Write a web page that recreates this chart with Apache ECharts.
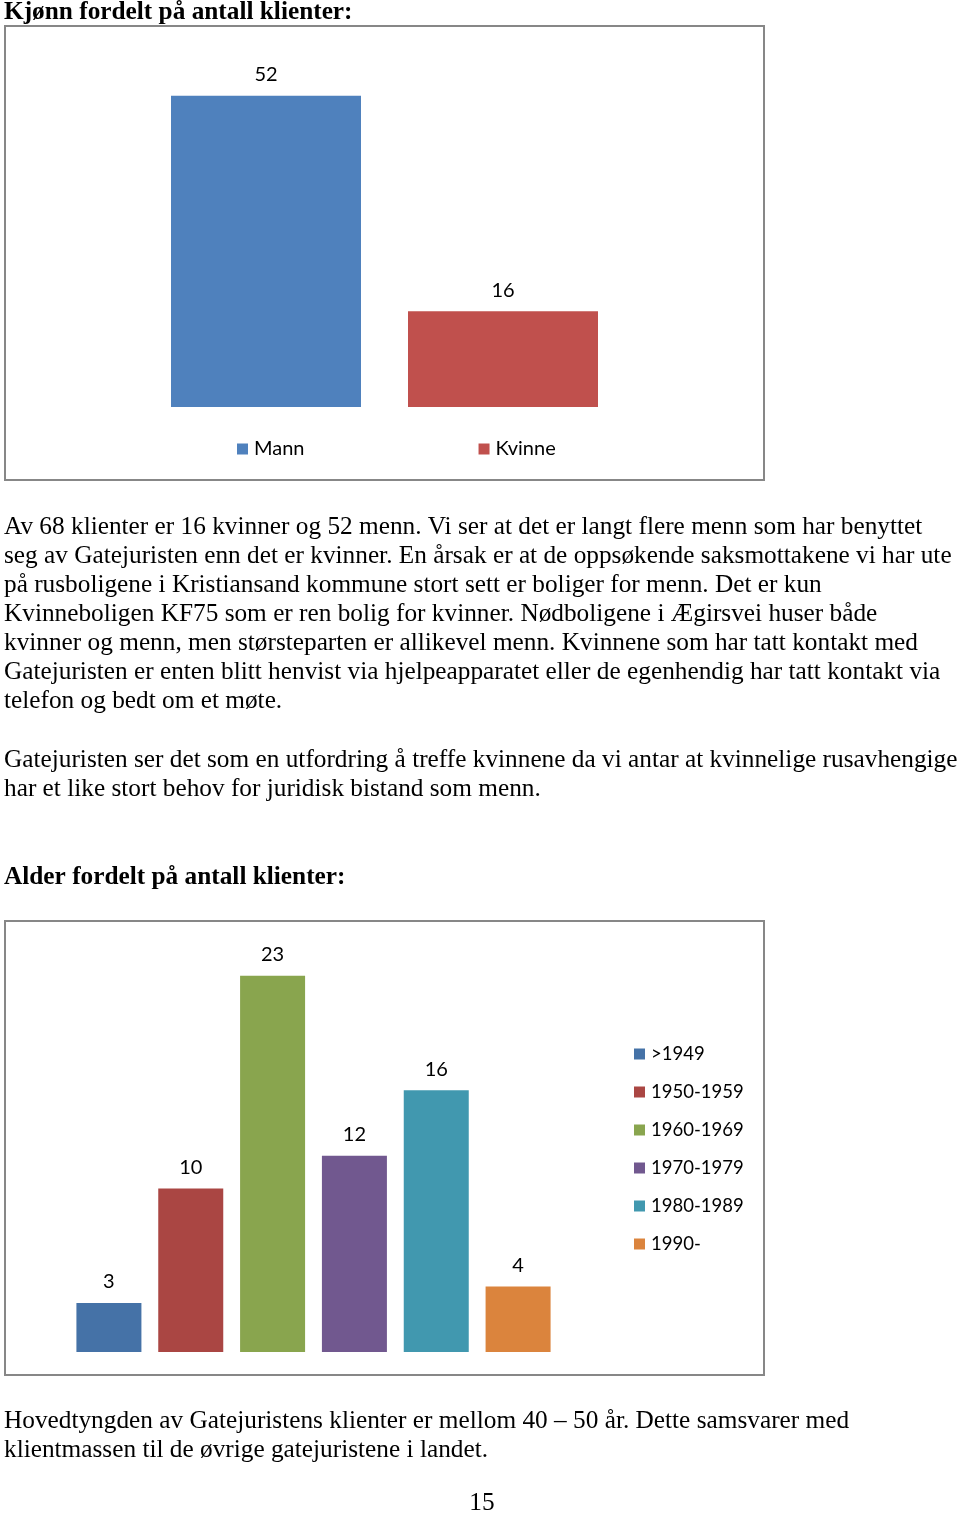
<!DOCTYPE html>
<html>
<head>
<meta charset="utf-8">
<script src="https://cdn.jsdelivr.net/npm/echarts@6/dist/echarts.min.js"></script>
<style>
html,body{margin:0;padding:0;background:#fff;}
#page{width:960px;height:1515px;}
</style>
</head>
<body>
<div id="page"></div>
<script>
// ---- Data ----
const genderCategories = ['Mann', 'Kvinne'];
const genderValues = [52, 16];
const genderColors = ['#4F81BD', '#C0504D'];

const ageCategories = ['>1949', '1950-1959', '1960-1969', '1970-1979', '1980-1989', '1990-'];
const ageValues = [3, 10, 23, 12, 16, 4];
const ageColors = ['#4572A7', '#AA4643', '#89A54E', '#71588F', '#4198AF', '#DB843D'];

const heading1 = 'Kjønn fordelt på antall klienter:';
const heading2 = 'Alder fordelt på antall klienter:';
const paragraph1 = [
  'Av 68 klienter er 16 kvinner og 52 menn. Vi ser at det er langt flere menn som har benyttet',
  'seg av Gatejuristen enn det er kvinner. En årsak er at de oppsøkende saksmottakene vi har ute',
  'på rusboligene i Kristiansand kommune stort sett er boliger for menn. Det er kun',
  'Kvinneboligen KF75 som er ren bolig for kvinner. Nødboligene i Ægirsvei huser både',
  'kvinner og menn, men størsteparten er allikevel menn. Kvinnene som har tatt kontakt med',
  'Gatejuristen er enten blitt henvist via hjelpeapparatet eller de egenhendig har tatt kontakt via',
  'telefon og bedt om et møte.'
];
const paragraph2 = [
  'Gatejuristen ser det som en utfordring å treffe kvinnene da vi antar at kvinnelige rusavhengige',
  'har et like stort behov for juridisk bistand som menn.'
];
const paragraph3 = [
  'Hovedtyngden av Gatejuristens klienter er mellom 40 – 50 år. Dette samsvarer med',
  'klientmassen til de øvrige gatejuristene i landet.'
];
const pageNumber = '15';

// ---- Layout / styles ----
const SERIF = '"Liberation Serif", "Times New Roman", serif';
const SANS = 'Lato, "Open Sans", sans-serif';
const LINE_H = 29;
const TEXT_SIZE = 25.3;

function textEl(str, x, y, opts) {
  opts = opts || {};
  return {
    type: 'text',
    silent: true,
    style: {
      text: str, x: x, y: y,
      font: (opts.bold ? 'bold ' : '') + (opts.size || TEXT_SIZE) + 'px ' + SERIF,
      fill: '#000',
      textAlign: opts.align || 'left', align: opts.align || 'left',
      textVerticalAlign: 'middle', verticalAlign: 'middle'
    }
  };
}

const graphics = [];
graphics.push(textEl(heading1, 4, 12, {bold: true}));
paragraph1.forEach((l, i) => graphics.push(textEl(l, 4, 527 + i * LINE_H)));
paragraph2.forEach((l, i) => graphics.push(textEl(l, 4, 760 + i * LINE_H)));
graphics.push(textEl(heading2, 4, 877, {bold: true}));
paragraph3.forEach((l, i) => graphics.push(textEl(l, 4, 1421 + i * LINE_H)));
graphics.push(textEl(pageNumber, 482, 1503, {align: 'center'}));
// chart frames
graphics.push({type: 'rect', silent: true, z: -1, shape: {x: 5, y: 26, width: 759, height: 454}, style: {fill: '#fff', stroke: '#878787', lineWidth: 2}});
graphics.push({type: 'rect', silent: true, z: -1, shape: {x: 5, y: 921, width: 759, height: 454}, style: {fill: '#fff', stroke: '#878787', lineWidth: 2}});

const labelStyle = {show: true, position: 'top', distance: 11, color: '#000', fontSize: 20, fontFamily: SANS};

const genderSeries = genderCategories.map((name, i) => ({
  name: name,
  type: 'bar',
  xAxisIndex: 0, yAxisIndex: 0,
  barWidth: 190,
  barGap: '-100%',
  itemStyle: {color: genderColors[i]},
  label: labelStyle,
  data: genderValues.map((v, j) => (j === i ? v : '-'))
}));

const ageSeries = ageCategories.map((name, i) => ({
  name: name,
  type: 'bar',
  xAxisIndex: 1, yAxisIndex: 1,
  barWidth: 65,
  barGap: '-100%',
  itemStyle: {color: ageColors[i]},
  label: labelStyle,
  data: ageValues.map((v, j) => (j === i ? v : '-'))
}));

const hiddenCat = (data, gi) => ({
  type: 'category', gridIndex: gi, data: data,
  axisLine: {show: false}, axisTick: {show: false}, axisLabel: {show: false}, splitLine: {show: false}
});
const hiddenVal = (max, gi) => ({
  type: 'value', gridIndex: gi, min: 0, max: max,
  axisLine: {show: false}, axisTick: {show: false}, axisLabel: {show: false}, splitLine: {show: false}
});

const chart = echarts.init(document.getElementById('page'), null, {width: 960, height: 1515});
chart.setOption({
  animation: false,
  backgroundColor: '#fff',
  grid: [
    {left: 147.5, width: 474, top: 48, height: 359},
    {left: 68, width: 491, top: 943, height: 409}
  ],
  xAxis: [hiddenCat(genderCategories, 0), hiddenCat(ageCategories, 1)],
  yAxis: [hiddenVal(60, 0), hiddenVal(25, 1)],
  legend: [
    {
      data: genderCategories, left: 237, top: 439, itemWidth: 11, itemHeight: 11, itemGap: 174,
      icon: 'rect', selectedMode: false, padding: 0,
      textStyle: {fontSize: 20, fontFamily: SANS, color: '#000', padding: [0, 0, 0, 1]}
    },
    {
      data: ageCategories, orient: 'vertical', left: 634, top: 1044, itemWidth: 11, itemHeight: 11, itemGap: 18,
      icon: 'rect', selectedMode: false, padding: 0,
      textStyle: {fontSize: 18.5, fontFamily: SANS, color: '#000', padding: [0, 0, 0, 1], lineHeight: 20}
    }
  ],
  series: genderSeries.concat(ageSeries),
  graphic: graphics
});
</script>
</body>
</html>
